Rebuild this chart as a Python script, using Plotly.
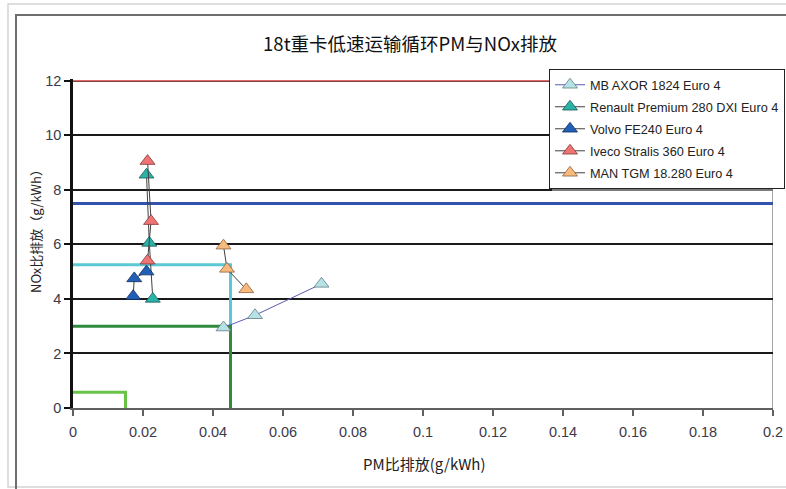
import plotly.graph_objects as go

# Emission measurements (PM in g/kWh, NOx in g/kWh) per vehicle
series_names = [
    "MB AXOR 1824 Euro 4",
    "Renault Premium 280 DXI Euro 4",
    "Volvo FE240 Euro 4",
    "Iveco Stralis 360 Euro 4",
    "MAN TGM 18.280 Euro 4",
]
mb_pm = [0.043, 0.052, 0.071]
mb_nox = [2.95, 3.4, 4.55]
renault_pm = [0.021, 0.0218, 0.0228]
renault_nox = [8.55, 6.05, 4.0]
volvo_pm = [0.0172, 0.0175, 0.021]
volvo_nox = [4.1, 4.75, 5.0]
iveco_pm = [0.0213, 0.0223, 0.0213]
iveco_nox = [9.05, 6.85, 5.4]
man_pm = [0.043, 0.044, 0.0495]
man_nox = [5.95, 5.1, 4.35]

# Limit lines (step outlines from the NOx axis)
limit_red_pm = [0, 0.2]
limit_red_nox = [12, 12]
limit_blue_pm = [0, 0.2]
limit_blue_nox = [7.5, 7.5]
limit_cyan_pm = [0, 0.045, 0.045]
limit_cyan_nox = [5.25, 5.25, 3.0]
limit_dgreen_pm = [0, 0.045, 0.045]
limit_dgreen_nox = [3.0, 3.0, 0]
limit_lgreen_pm = [0, 0.015, 0.015]
limit_lgreen_nox = [0.58, 0.58, 0]

x_ticks = [0, 0.02, 0.04, 0.06, 0.08, 0.1, 0.12, 0.14, 0.16, 0.18, 0.2]
x_tick_text = ["0", "0.02", "0.04", "0.06", "0.08", "0.1", "0.12", "0.14", "0.16", "0.18", "0.2"]
y_ticks = [0, 2, 4, 6, 8, 10, 12]

FONT = "Liberation Sans, Arial, Noto Sans CJK SC, sans-serif"
CJK = "Noto Sans CJK SC, Liberation Sans, sans-serif"

fig = go.Figure()

limits = [
    (limit_red_pm, limit_red_nox, "#e06a6a", 1.5),
    (limit_blue_pm, limit_blue_nox, "#3352ad", 3),
    (limit_cyan_pm, limit_cyan_nox, "#5cc8d6", 3),
    (limit_dgreen_pm, limit_dgreen_nox, "#2f8a3c", 3),
    (limit_lgreen_pm, limit_lgreen_nox, "#68c246", 3),
]
for px_, py_, col, w in limits:
    fig.add_trace(go.Scatter(x=px_, y=py_, mode="lines", showlegend=False,
                             hoverinfo="skip", line=dict(color=col, width=w)))

series = [
    (mb_pm, mb_nox, "#5a5ab4", "#b6e2e6", "#5f7d84"),
    (renault_pm, renault_nox, "#404040", "#2cb3a8", "#1b5955"),
    (volvo_pm, volvo_nox, "#404040", "#2160b6", "#102d5e"),
    (iveco_pm, iveco_nox, "#404040", "#f07474", "#7e3a3a"),
    (man_pm, man_nox, "#404040", "#f8b97c", "#8a6240"),
]
for i, (name, (xs, ys, lc, fc, oc)) in enumerate(zip(series_names, series)):
    fig.add_trace(go.Scatter(
        x=xs, y=ys, name=name, mode="lines+markers", legendgroup=f"g{i}",
        line=dict(color=lc, width=1),
        marker=dict(symbol="triangle-up", size=13, color=fc,
                    line=dict(color=oc, width=0.8)),
        cliponaxis=False,
    ))

# pixel -> paper helpers for the frame decorations
L, R, T, B = 73, 13, 79, 81
W, H = 786, 489
pw, ph = W - L - R, H - T - B


def px(x):
    return (x - L) / pw


def py(y):
    return (H - B - y) / ph


shapes = [
    # outer light frame
    dict(type="rect", xref="paper", yref="paper", x0=px(8), x1=px(820), y0=py(487), y1=py(4),
         line=dict(color="#d4d4d4", width=1.5), layer="below"),
    # inner chart frame
    dict(type="rect", xref="paper", yref="paper", x0=px(16), x1=px(830), y0=py(520), y1=py(15),
         line=dict(color="#6e6e6e", width=2), layer="below"),
    # right border of the plot area
    dict(type="line", xref="x", yref="paper", x0=0.2, x1=0.2, y0=0, y1=py(81),
         line=dict(color="#8a8a8a", width=1.5), layer="below"),
    # legend shadow
    dict(type="rect", xref="paper", yref="paper", x0=px(552), x1=px(773), y0=py(191), y1=py(74),
         line=dict(width=0), fillcolor="#7a7a7a", layer="above"),
]

annotations = [
    dict(text="NOx比排放（g/kWh）", xref="paper", yref="paper", x=px(35), y=py(228),
         textangle=-90, showarrow=False, font=dict(family=CJK, size=13, color="#222"),
         xanchor="center", yanchor="middle"),
    dict(text="PM比排放(g/kWh)", xref="paper", yref="paper", x=px(424), y=py(463),
         showarrow=False, font=dict(family=CJK, size=15, color="#222"),
         xanchor="center", yanchor="middle"),
]

fig.update_layout(
    width=W, height=H,
    margin=dict(l=L, r=R, t=T, b=B, autoexpand=False),
    paper_bgcolor="white", plot_bgcolor="white",
    font=dict(family=FONT, color="#3a3a3a"),
    title=dict(text="18t重卡低速运输循环PM与NOx排放", x=410 / W, y=1 - 45 / H,
               xanchor="center", yanchor="middle", xref="container", yref="container",
               font=dict(family=CJK, size=18.5, color="#111")),
    showlegend=True,
    legend=dict(x=px(549), y=py(69), xanchor="left", yanchor="top",
                bgcolor="white", bordercolor="#222", borderwidth=1,
                font=dict(family=FONT, size=12.7, color="#222"), tracegroupgap=2.5),
    shapes=shapes,
    annotations=annotations,
    xaxis=dict(range=[0, 0.2], tickvals=x_ticks, ticktext=x_tick_text,
               showgrid=False, zeroline=False,
               showline=True, linecolor="#606060", linewidth=1.5,
               ticks="outside", ticklen=6, tickcolor="#606060", tickwidth=1.5,
               ticklabelstandoff=4,
               tickfont=dict(size=14.5, color="#3a3a4a")),
    yaxis=dict(range=[0, 12.06], tickvals=y_ticks,
               showgrid=True, gridcolor="#1a1a1a", gridwidth=1.5, zeroline=False,
               showline=True, linecolor="#111", linewidth=2.5,
               ticks="outside", ticklen=6, tickcolor="#111", tickwidth=1.5,
               tickfont=dict(size=14.5, color="#3a3a4a")),
)

fig.write_html("out.html")
